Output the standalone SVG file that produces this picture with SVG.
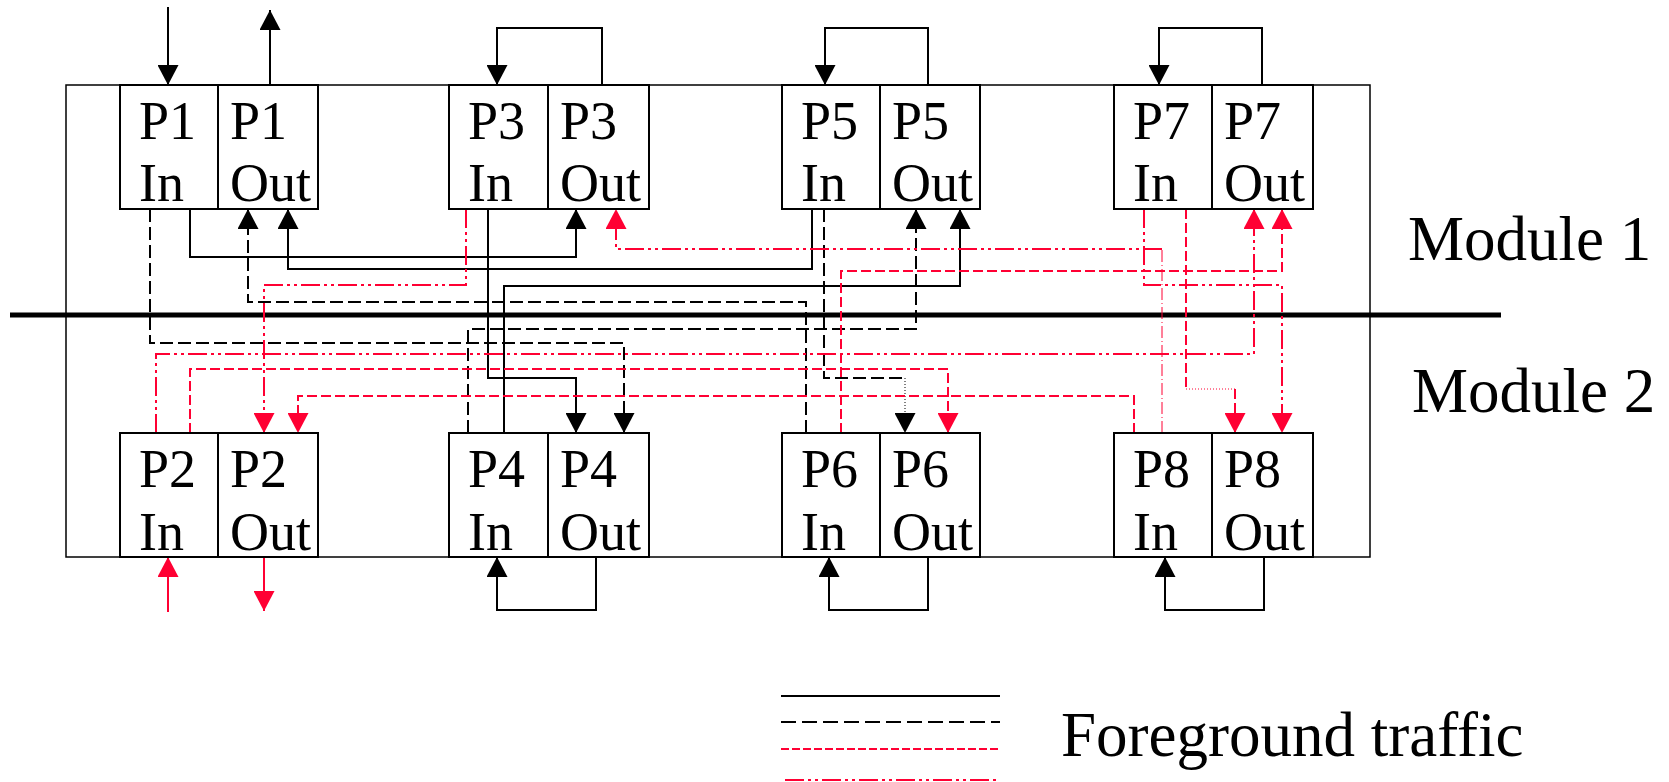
<svg xmlns="http://www.w3.org/2000/svg" width="1669" height="782" viewBox="0 0 1669 782">
<defs>
<style>
.box{fill:#fff;stroke:#000;stroke-width:2}
.lbl{font-family:"Liberation Serif","Times New Roman",serif;font-size:54px;fill:#000}
.mod{font-family:"Liberation Serif","Times New Roman",serif;font-size:63px;fill:#000}
.c{fill:none;stroke-width:2}
.k{stroke:#000}
.r{stroke:#ff0033}
.kd{stroke-dasharray:13 5}
.rd{stroke-dasharray:10 4}
.rdd{stroke-dasharray:19 4 3 4 3 4}
.ka{marker-end:url(#ak)}
.ra{marker-end:url(#ar)}
</style>
<marker id="ak" markerUnits="userSpaceOnUse" markerWidth="21" markerHeight="21" refX="20" refY="10.5" orient="auto"><path d="M0,0 L20,10.5 L0,21 z" fill="#000"/></marker>
<marker id="ar" markerUnits="userSpaceOnUse" markerWidth="21" markerHeight="21" refX="20" refY="10.5" orient="auto"><path d="M0,0 L20,10.5 L0,21 z" fill="#ff0033"/></marker>
</defs>
<rect width="1669" height="782" fill="#fff"/>
<g id="module-frame">
<rect x="66" y="85" width="1304" height="472" fill="none" stroke="#000" stroke-width="1.5"/>
<line x1="10" y1="315" x2="1501" y2="315" stroke="#000" stroke-width="5"/>
</g>
<g id="connectors">
<path class="c k ka" d="M168,7 V85"/>
<path class="c k ka" d="M270,85 V10"/>
<path class="c k ka" d="M602,85 V28 H497 V85"/>
<path class="c k ka" d="M928,85 V28 H825 V85"/>
<path class="c k ka" d="M1262,85 V28 H1159 V85"/>
<path class="c k ka" d="M596,557 V610 H497 V557"/>
<path class="c k ka" d="M928,557 V610 H829 V557"/>
<path class="c k ka" d="M1264,557 V610 H1165 V557"/>
<path class="c r ra" d="M168,612 V557"/>
<path class="c r ra" d="M264,557 V611"/>
<path class="c k kd ka" d="M150,209 V343 H624 V433"/>
<path class="c k ka" d="M190,209 V257 H576 V209"/>
<path class="c k ka" d="M812,209 V269 H288 V209"/>
<path class="c k kd ka" d="M806,433 V302 H248 V209"/>
<path class="c r rdd ra" d="M466,209 V285 H264 V433"/>
<path class="c k ka" d="M488,209 V378 H576 V433"/>
<path class="c k ka" d="M504,433 V286 H960 V209"/>
<path class="c k kd ka" d="M468,433 V329 H916 V209"/>
<path class="c k kd" d="M824,209 V378 H905"/>
<path class="k ka" fill="none" stroke-width="1" stroke-dasharray="1 2" d="M905,378 V433"/>
<path class="r" fill="none" stroke-width="1" stroke-dasharray="12 3 1 3" d="M1162,433 V249"/>
<path class="c r rdd ra" d="M1162,249 H616 V209"/>
<path class="c r rd ra" d="M841,433 V271 H1282 V209"/>
<path class="c r rdd ra" d="M1144,209 V285 H1282 V433"/>
<path class="c r rd" d="M1186,209 V389"/>
<path class="r" fill="none" stroke-width="1" stroke-dasharray="1 2" d="M1186,389 H1235"/>
<path class="c r rd ra" d="M1235,389 V433"/>
<path class="c r rd ra" d="M190,433 V369 H948 V433"/>
<path class="c r rd ra" d="M1134,433 V396 H298 V433"/>
<path class="c r rdd ra" d="M156,433 V354 H1254 V209"/>
</g>
<g id="p1-in"><rect class="box" x="120" y="85" width="98" height="124"/><text class="lbl" x="139" y="139">P1</text><text class="lbl" x="139" y="201">In</text></g>
<g id="p1-out"><rect class="box" x="218" y="85" width="100" height="124"/><text class="lbl" x="230" y="139">P1</text><text class="lbl" x="230" y="201">Out</text></g>
<g id="p3-in"><rect class="box" x="449" y="85" width="99" height="124"/><text class="lbl" x="468" y="139">P3</text><text class="lbl" x="468" y="201">In</text></g>
<g id="p3-out"><rect class="box" x="548" y="85" width="101" height="124"/><text class="lbl" x="560" y="139">P3</text><text class="lbl" x="560" y="201">Out</text></g>
<g id="p5-in"><rect class="box" x="782" y="85" width="98" height="124"/><text class="lbl" x="801" y="139">P5</text><text class="lbl" x="801" y="201">In</text></g>
<g id="p5-out"><rect class="box" x="880" y="85" width="100" height="124"/><text class="lbl" x="892" y="139">P5</text><text class="lbl" x="892" y="201">Out</text></g>
<g id="p7-in"><rect class="box" x="1114" y="85" width="98" height="124"/><text class="lbl" x="1133" y="139">P7</text><text class="lbl" x="1133" y="201">In</text></g>
<g id="p7-out"><rect class="box" x="1212" y="85" width="101" height="124"/><text class="lbl" x="1224" y="139">P7</text><text class="lbl" x="1224" y="201">Out</text></g>
<g id="p2-in"><rect class="box" x="120" y="433" width="98" height="124"/><text class="lbl" x="139" y="487">P2</text><text class="lbl" x="139" y="550">In</text></g>
<g id="p2-out"><rect class="box" x="218" y="433" width="100" height="124"/><text class="lbl" x="230" y="487">P2</text><text class="lbl" x="230" y="550">Out</text></g>
<g id="p4-in"><rect class="box" x="449" y="433" width="99" height="124"/><text class="lbl" x="468" y="487">P4</text><text class="lbl" x="468" y="550">In</text></g>
<g id="p4-out"><rect class="box" x="548" y="433" width="101" height="124"/><text class="lbl" x="560" y="487">P4</text><text class="lbl" x="560" y="550">Out</text></g>
<g id="p6-in"><rect class="box" x="782" y="433" width="98" height="124"/><text class="lbl" x="801" y="487">P6</text><text class="lbl" x="801" y="550">In</text></g>
<g id="p6-out"><rect class="box" x="880" y="433" width="100" height="124"/><text class="lbl" x="892" y="487">P6</text><text class="lbl" x="892" y="550">Out</text></g>
<g id="p8-in"><rect class="box" x="1114" y="433" width="98" height="124"/><text class="lbl" x="1133" y="487">P8</text><text class="lbl" x="1133" y="550">In</text></g>
<g id="p8-out"><rect class="box" x="1212" y="433" width="101" height="124"/><text class="lbl" x="1224" y="487">P8</text><text class="lbl" x="1224" y="550">Out</text></g>
<g id="module-labels">
<text class="mod" x="1408" y="260">Module 1</text>
<text class="mod" x="1412" y="412">Module 2</text>
</g>
<g id="legend">
<path class="c k" d="M781,696 H1000"/>
<path class="c k" stroke-dasharray="15 6" d="M781,722 H1000"/>
<path class="c r" stroke-dasharray="8 3" d="M781,749 H1000"/>
<path class="c r rdd" stroke-width="3" d="M785,780 H1000"/>
<text class="mod" x="1061" y="756" font-size="62">Foreground traffic</text>
</g>
</svg>
